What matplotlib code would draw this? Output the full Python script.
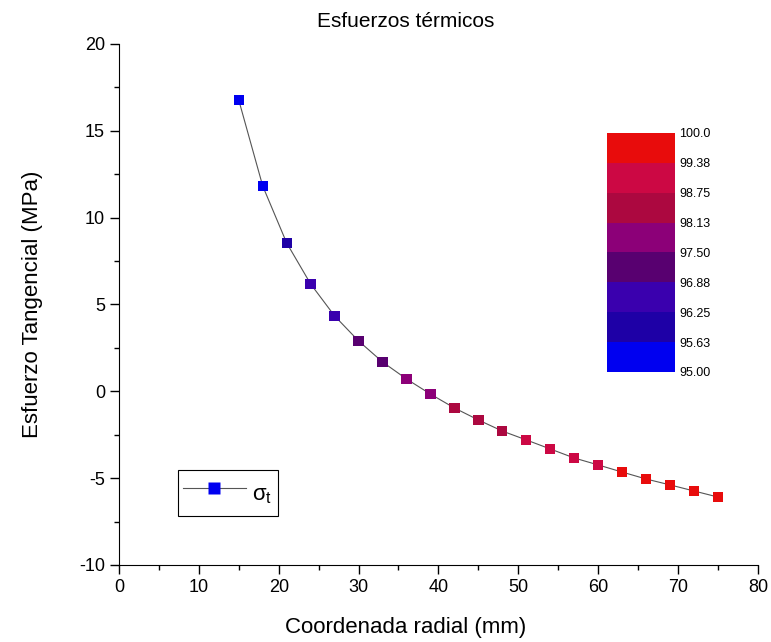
import matplotlib
matplotlib.use("Agg")
import matplotlib.pyplot as plt
from matplotlib.colors import ListedColormap, BoundaryNorm
from matplotlib.lines import Line2D

plt.rcParams['font.family'] = ['Liberation Sans', 'DejaVu Sans']
plt.rcParams['axes.unicode_minus'] = False

# radial coordinate (mm) and tangential stress (MPa)
radio = [15, 18, 21, 24, 27, 30, 33, 36, 39, 42, 45, 48, 51, 54, 57, 60, 63, 66, 69, 72, 75]
sigma_t = [16.77, 11.82, 8.54, 6.18, 4.34, 2.90, 1.69, 0.71, -0.16, -0.96, -1.65,
           -2.29, -2.80, -3.32, -3.84, -4.24, -4.65, -5.05, -5.39, -5.74, -6.09]
# temperature used for colour of each point
temp = [95.2, 95.5, 95.9, 96.4, 96.7, 97.0, 97.3, 97.6, 97.9, 98.2, 98.45,
        98.7, 98.9, 99.1, 99.25, 99.35, 99.5, 99.65, 99.75, 99.85, 99.95]

niveles = [95.00, 95.63, 96.25, 96.88, 97.50, 98.13, 98.75, 99.38, 100.0]
niveles_txt = ['95.00', '95.63', '96.25', '96.88', '97.50', '98.13', '98.75', '99.38', '100.0']
colores = ['#0000F0', '#1E00A6', '#3A00AE', '#580070', '#8C0078',
           '#AC0840', '#CC0844', '#E80C0C']

cmap = ListedColormap(colores)
norm = BoundaryNorm(niveles, cmap.N)

fig = plt.figure(figsize=(7.71, 6.42), dpi=100)
ax = fig.add_axes([0.1543, 0.120, 0.8287, 0.8115])

ax.plot(radio, sigma_t, color='#555555', lw=0.8, zorder=1)
ax.scatter(radio, sigma_t, c=temp, cmap=cmap, norm=norm, marker='s', s=55,
           edgecolors='none', zorder=2)

ax.set_xlim(0, 80)
ax.set_ylim(-10, 20)
ax.set_xticks(range(0, 81, 10))
ax.set_xticks(range(5, 80, 10), minor=True)
ax.set_yticks(range(-10, 21, 5))
ax.set_yticks([-7.5, -2.5, 2.5, 7.5, 12.5, 17.5], minor=True)
ax.spines['top'].set_visible(False)
ax.spines['right'].set_visible(False)
ax.tick_params(which='major', direction='out', length=6.5, width=1, labelsize=13)
ax.tick_params(which='minor', direction='out', length=3.6, width=1)

ax.set_title('Esfuerzos térmicos', fontsize=15, pad=12, x=0.448)
ax.set_xlabel('Coordenada radial (mm)', fontsize=16)
ax.xaxis.set_label_coords(0.448, -0.10)
ax.set_ylabel('Esfuerzo Tangencial (MPa)', fontsize=16, labelpad=26)

proxy = Line2D([], [], color='#555555', lw=0.8, marker='s', markersize=9,
               markerfacecolor='#0000F0', markeredgecolor='none')
leg = ax.legend([proxy], [r'$\mathregular{\sigma_t}$'], loc='upper left',
                bbox_to_anchor=(0.092, 0.182), borderaxespad=0, fontsize=16,
                fancybox=False, edgecolor='black', framealpha=1,
                handlelength=2.8, handleheight=2.0, handletextpad=0.3,
                borderpad=0.25)
leg.get_frame().set_linewidth(0.8)

cax = fig.add_axes([0.787, 0.4206, 0.0882, 0.3723])
cb = fig.colorbar(plt.cm.ScalarMappable(norm=norm, cmap=cmap), cax=cax,
                  ticks=niveles)
cb.ax.set_yticklabels(niveles_txt)
cb.ax.tick_params(length=0, labelsize=9, pad=3)
cb.outline.set_visible(False)

fig.savefig('out.png', dpi=100)
